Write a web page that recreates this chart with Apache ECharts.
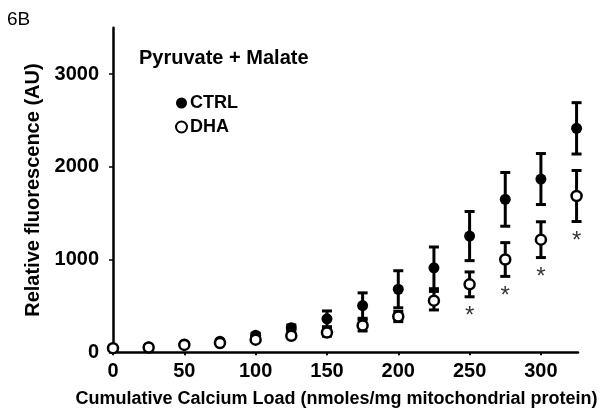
<!DOCTYPE html>
<html>
<head>
<meta charset="utf-8">
<script src="https://cdn.jsdelivr.net/npm/echarts@6/dist/echarts.min.js"></script>
<style>html,body{margin:0;padding:0;background:#fff}#c{width:604px;height:415px}</style>
</head>
<body>
<div id="c"></div>
<script>
// ---- data ----
const calciumLoad = [0, 25, 50, 75, 100, 125, 150, 175, 200, 225, 250, 275, 300, 325];
const ctrlMean = [40, 58, 90, 120, 185, 265, 361, 504, 680, 911, 1254, 1650, 1869, 2416];
const ctrlErr  = [0, 10, 15, 15, 20, 30, 85, 137, 200, 225, 265, 290, 275, 277];
const dhaMean  = [45, 52, 80, 100, 136, 179, 214, 290, 386, 557, 733, 1001, 1215, 1686];
const dhaErr   = [0, 8, 10, 10, 15, 20, 40, 60, 55, 100, 134, 182, 193, 275];
const significant = [250, 275, 300, 325];
const yTicks = [0, 1000, 2000, 3000];
const xTicks = [0, 50, 100, 150, 200, 250, 300];

const FONT = '"Liberation Sans", Arial, sans-serif';

function pts(mean) { return calciumLoad.map((x, i) => [x, mean[i]]); }
function errs(mean, err) { return calciumLoad.map((x, i) => [x, mean[i] - err[i], mean[i] + err[i]]); }
const starData = significant.map(x => {
  const i = calciumLoad.indexOf(x);
  return [x, dhaMean[i] - dhaErr[i]];
});

function errorBar(params, api) {
  const x = api.value(0);
  const lo = api.coord([x, api.value(1)]);
  const hi = api.coord([x, api.value(2)]);
  if (Math.abs(lo[1] - hi[1]) < 1) return null;
  const w = 5;
  const style = { stroke: '#000', lineWidth: 3 };
  return {
    type: 'group',
    children: [
      { type: 'line', shape: { x1: lo[0], y1: lo[1], x2: hi[0], y2: hi[1] }, style },
      { type: 'line', shape: { x1: lo[0] - w, y1: lo[1], x2: lo[0] + w, y2: lo[1] }, style },
      { type: 'line', shape: { x1: hi[0] - w, y1: hi[1], x2: hi[0] + w, y2: hi[1] }, style }
    ]
  };
}

const chart = echarts.init(document.getElementById('c'), null, { renderer: 'canvas' });
chart.setOption({
  animation: false,
  backgroundColor: '#fff',
  title: [
    { text: '6B', left: 2, top: 5, textStyle: { fontFamily: FONT, fontSize: 19, fontWeight: 'normal', color: '#000' } },
    { text: 'Pyruvate + Malate', left: 134, top: 43, textStyle: { fontFamily: FONT, fontSize: 20, fontWeight: 'bold', color: '#000' } }
  ],
  legend: {
    orient: 'vertical', left: 170, top: 89, itemGap: 6, itemWidth: 11, itemHeight: 11,
    data: [{ name: 'CTRL', icon: 'circle' }, { name: 'DHA', icon: 'circle' }],
    textStyle: { fontFamily: FONT, fontSize: 18, fontWeight: 'bold', color: '#000', padding: [0, 0, 0, -2] }
  },
  grid: { left: 113, right: 26, top: 27.85, bottom: 62.7, containLabel: false },
  xAxis: {
    type: 'value', min: 0, max: 326,
    name: 'Cumulative Calcium Load (nmoles/mg mitochondrial protein)',
    nameLocation: 'middle', nameGap: 38,
    nameTextStyle: { fontFamily: FONT, fontSize: 18, fontWeight: 'bold', color: '#000', padding: [0, 18, 0, 0] },
    axisLine: { lineStyle: { color: '#000', width: 2.5 } },
    axisTick: { customValues: xTicks, length: 3, inside: false, lineStyle: { color: '#000', width: 2 } },
    axisLabel: { customValues: xTicks, margin: 9, fontFamily: FONT, fontSize: 20, fontWeight: 'bold', color: '#000' },
    splitLine: { show: false }
  },
  yAxis: {
    type: 'value', min: 0, max: 3500,
    name: 'Relative fluorescence (AU)',
    nameLocation: 'middle', nameGap: 62,
    nameTextStyle: { fontFamily: FONT, fontSize: 20, fontWeight: 'bold', color: '#000' },
    axisLine: { show: true, lineStyle: { color: '#000', width: 2.5 } },
    axisTick: { show: true, customValues: yTicks, length: 4, lineStyle: { color: '#000', width: 1.5 } },
    axisLabel: { customValues: yTicks, margin: 14, fontFamily: FONT, fontSize: 20, fontWeight: 'bold', color: '#000',
      formatter: v => String(v) },
    splitLine: { show: false }
  },
  series: [
    { name: 'CTRL-err', type: 'custom', renderItem: errorBar, data: errs(ctrlMean, ctrlErr), z: 2, silent: true,
      encode: { x: 0, y: [1, 2] } },
    { name: 'DHA-err', type: 'custom', renderItem: errorBar, data: errs(dhaMean, dhaErr), z: 2, silent: true,
      encode: { x: 0, y: [1, 2] } },
    { name: 'CTRL', type: 'scatter', data: pts(ctrlMean), symbol: 'circle', symbolSize: 11, z: 3,
      itemStyle: { color: '#000', borderColor: '#000', borderWidth: 0, opacity: 1 } },
    { name: 'DHA', type: 'scatter', data: pts(dhaMean), symbol: 'circle', symbolSize: 10, z: 4,
      itemStyle: { color: '#fff', borderColor: '#000', borderWidth: 2.5, opacity: 1 } },
    { name: 'sig', type: 'scatter', data: starData, symbolSize: 0, z: 5, silent: true,
      label: { show: true, formatter: '*', position: 'bottom', distance: 8,
        fontFamily: FONT, fontSize: 24, color: '#000' } }
  ]
});
</script>
</body>
</html>
